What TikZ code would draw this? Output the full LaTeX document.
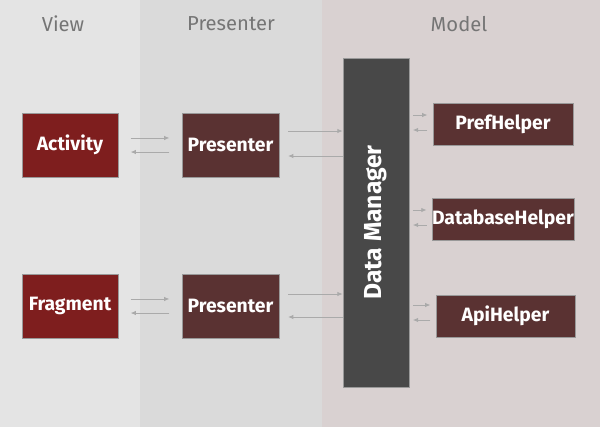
\documentclass[tikz,border=0pt]{standalone}
\usepackage{fontspec}
\setmainfont{Fira Sans}
\usetikzlibrary{arrows.meta}
\definecolor{viewbg}{HTML}{E4E4E4}
\definecolor{presbg}{HTML}{DADADA}
\definecolor{modelbg}{HTML}{D9D1D1}
\definecolor{viewbox}{HTML}{7E1E1E}
\definecolor{presbox}{HTML}{5A3232}
\definecolor{dmbox}{HTML}{484848}
\definecolor{titlegray}{HTML}{757575}
\definecolor{arrgray}{HTML}{AAAAAA}
\tikzset{
  box/.style={fill=#1, draw=black!40, line width=0.3pt, text=white, font=\fontsize{11}{13}\selectfont\bfseries, inner sep=0pt},
  title/.style={text=titlegray, font=\fontsize{11.5}{14}\selectfont},
  flow/.style={draw=arrgray, line width=0.5pt, -{Latex[length=3pt,width=2.5pt]}}
}
\begin{document}
\begin{tikzpicture}[x=0.02cm, y=-0.02cm]
  \useasboundingbox (0,0) rectangle (600,427);
  % panels
  \fill [viewbg] (0,0) rectangle (140,427);
  \fill [presbg] (140,0) rectangle (322,427);
  \fill [modelbg] (322,0) rectangle (600,427);
  \node [title] (tView) at (63,24) {View};
  \node [title] (tPres) at (231,24) {Presenter};
  \node [title] (tModel) at (459,24) {Model};

  % boxes
  \node [box=viewbox, minimum width=1.92cm, minimum height=1.28cm] (act) at (70,145) {Activity};
  \node [box=presbox, minimum width=1.94cm, minimum height=1.28cm] (pres1) at (230.5,145) {Presenter};
  \node [box=viewbox, minimum width=1.92cm, minimum height=1.28cm] (frag) at (70,306) {Fragment};
  \node [box=presbox, minimum width=1.94cm, minimum height=1.28cm] (pres2) at (230.5,306) {Presenter};
  \node [box=dmbox, minimum width=1.32cm, minimum height=6.58cm] (dm) at (376,222.5) {};
  \node [text=white, font=\fontsize{14}{16}\selectfont\bfseries, rotate=90] (dmText) at (dm.center) {Data Manager};
  \node [box=presbox, minimum width=2.8cm, minimum height=0.84cm] (pref) at (503,124) {PrefHelper};
  \node [box=presbox, minimum width=2.8cm, minimum height=0.84cm] (db) at (503,219) {DatabaseHelper};
  \node [box=presbox, minimum width=2.78cm, minimum height=0.84cm] (api) at (505.5,316) {ApiHelper};

  % connectors
  \draw [flow] ([xshift=7pt,yshift=4pt]act.east) -- ([xshift=-7pt,yshift=4pt]pres1.west);
  \draw [flow] ([xshift=-7pt,yshift=-4pt]pres1.west) -- ([xshift=7pt,yshift=-4pt]act.east);
  \draw [flow] ([xshift=7pt,yshift=4pt]frag.east) -- ([xshift=-7pt,yshift=4pt]pres2.west);
  \draw [flow] ([xshift=-7pt,yshift=-4pt]pres2.west) -- ([xshift=7pt,yshift=-4pt]frag.east);
  \draw [flow] ([xshift=5pt]pres1.east |- 0,131) -- (dm.west |- 0,131);
  \draw [flow] (dm.west |- 0,156) -- ([xshift=5pt]pres1.east |- 0,156);
  \draw [flow] ([xshift=5pt]pres2.east |- 0,294) -- (dm.west |- 0,294);
  \draw [flow] (dm.west |- 0,317) -- ([xshift=5pt]pres2.east |- 0,317);
  \foreach \hlp/\ya/\yb in {pref/115/130, db/210/225, api/305/320} {
    \draw [flow] ([xshift=2pt]dm.east |- 0,\ya) -- ([xshift=-3pt]\hlp.west |- 0,\ya);
    \draw [flow] ([xshift=-3pt]\hlp.west |- 0,\yb) -- ([xshift=2pt]dm.east |- 0,\yb);
  }
\end{tikzpicture}
\end{document}
